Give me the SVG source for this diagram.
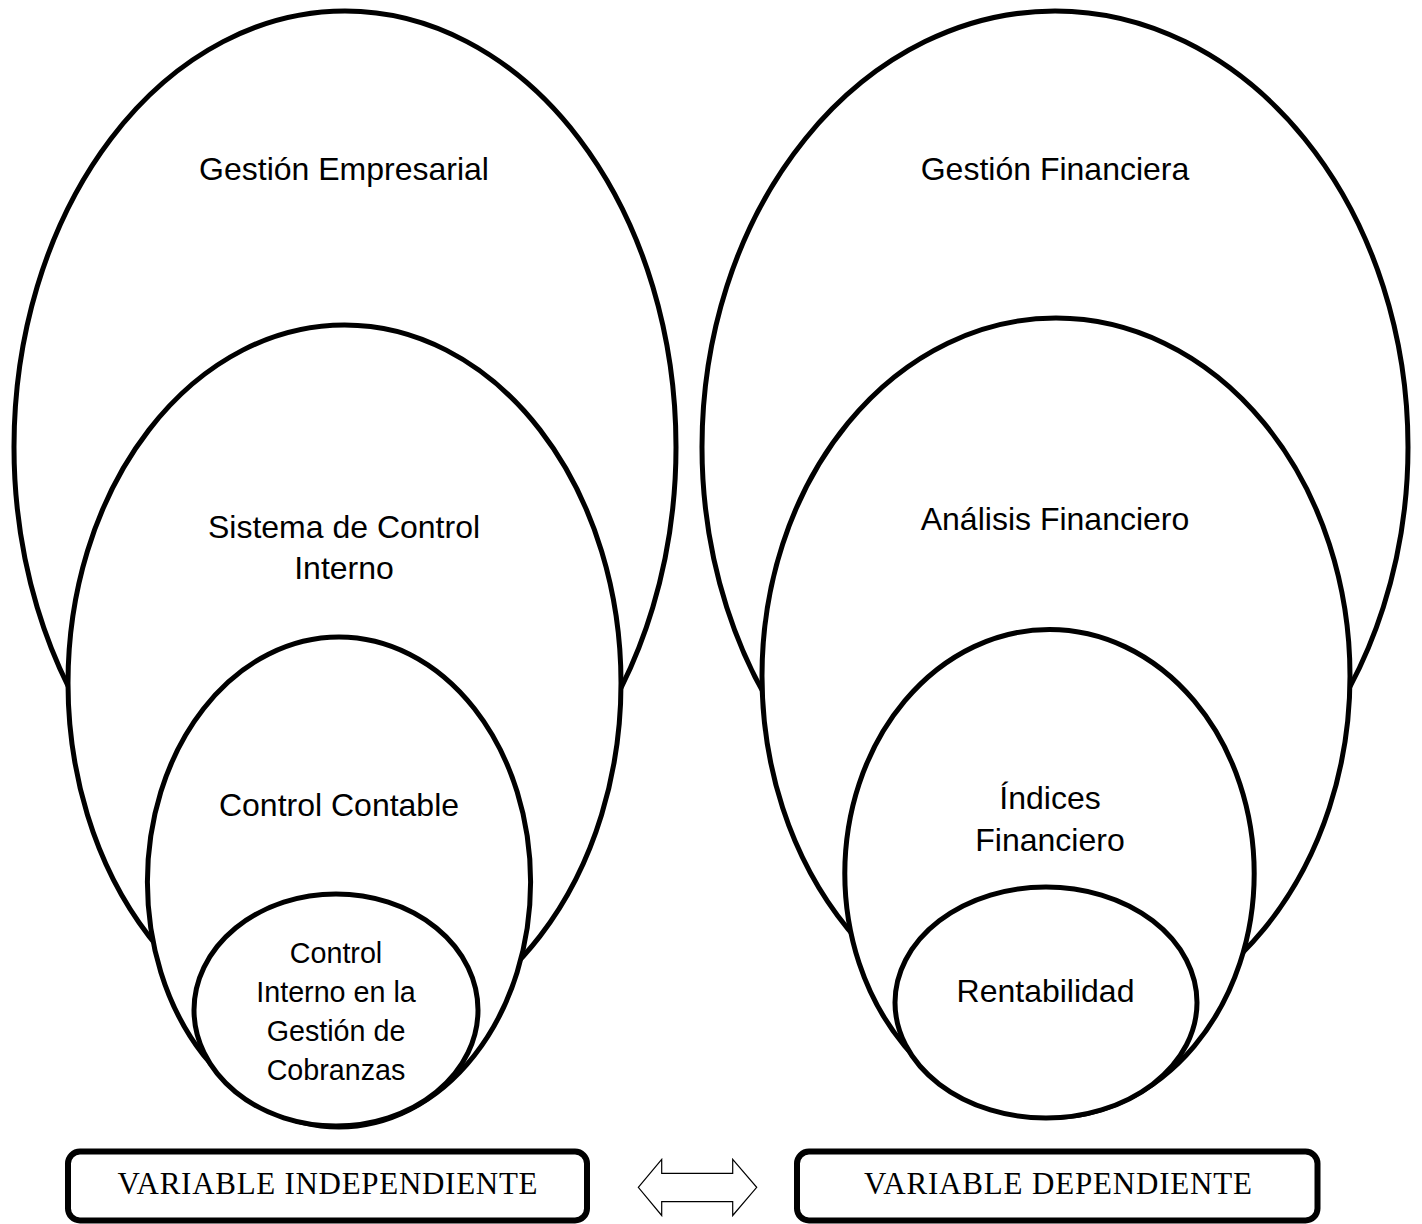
<svg xmlns="http://www.w3.org/2000/svg" width="1422" height="1224" viewBox="0 0 1422 1224">
  <style>
    .ring { fill: #ffffff; stroke: #000000; stroke-width: 5; }
    .box { fill: #ffffff; stroke: #000000; stroke-width: 6; }
    .lbl { font-family: "Liberation Sans", Arial, sans-serif; font-size: 32px; fill: #000000; text-anchor: middle; }
    .lbl-sm { font-family: "Liberation Sans", Arial, sans-serif; font-size: 28.7px; fill: #000000; text-anchor: middle; }
    .var { font-family: "Liberation Serif", "Times New Roman", serif; font-size: 31px; fill: #000000; text-anchor: middle; }
    .link { fill: #ffffff; stroke: #000000; stroke-width: 1.2; stroke-linejoin: miter; }
  </style>
  <rect width="1422" height="1224" fill="#ffffff"/>

  <!-- Independent variable: nested ellipses, outermost first -->
  <g id="gestion-empresarial">
    <ellipse class="ring" cx="345" cy="447" rx="331" ry="436"/>
    <text class="lbl" x="344" y="180">Gestión Empresarial</text>
  </g>
  <g id="sistema-control-interno">
    <ellipse class="ring" cx="344.5" cy="683" rx="276.5" ry="358"/>
    <text class="lbl" x="344" y="538">Sistema de Control</text>
    <text class="lbl" x="344" y="579">Interno</text>
  </g>
  <g id="control-contable">
    <ellipse class="ring" cx="339" cy="882" rx="191.6" ry="245"/>
    <text class="lbl" x="339" y="816">Control Contable</text>
  </g>
  <g id="control-interno-cobranzas">
    <ellipse class="ring" cx="336" cy="1010" rx="142" ry="116"/>
    <text class="lbl-sm" x="336" y="963">Control</text>
    <text class="lbl-sm" x="336" y="1002">Interno en la</text>
    <text class="lbl-sm" x="336" y="1041">Gestión de</text>
    <text class="lbl-sm" x="336" y="1080">Cobranzas</text>
  </g>

  <!-- Dependent variable: nested ellipses, outermost first -->
  <g id="gestion-financiera">
    <ellipse class="ring" cx="1055" cy="447" rx="353" ry="436"/>
    <text class="lbl" x="1055" y="180">Gestión Financiera</text>
  </g>
  <g id="analisis-financiero">
    <ellipse class="ring" cx="1056" cy="676" rx="294" ry="358"/>
    <text class="lbl" x="1055" y="530">Análisis Financiero</text>
  </g>
  <g id="indices-financiero">
    <ellipse class="ring" cx="1049.5" cy="873.5" rx="204.7" ry="244"/>
    <text class="lbl" x="1050" y="809">Índices</text>
    <text class="lbl" x="1050" y="851">Financiero</text>
  </g>
  <g id="rentabilidad">
    <ellipse class="ring" cx="1046" cy="1002.5" rx="151" ry="115.5"/>
    <text class="lbl" x="1045.5" y="1002">Rentabilidad</text>
  </g>

  <!-- Variable labels -->
  <g id="variable-independiente">
    <rect class="box" x="68" y="1151.5" width="519" height="69" rx="12" ry="12"/>
    <text class="var" x="327.5" y="1194" textLength="420" lengthAdjust="spacing">VARIABLE INDEPENDIENTE</text>
  </g>
  <g id="variable-dependiente">
    <rect class="box" x="797" y="1151.5" width="520.5" height="69" rx="12" ry="12"/>
    <text class="var" x="1058" y="1194" textLength="388" lengthAdjust="spacing">VARIABLE DEPENDIENTE</text>
  </g>

  <!-- Connectors -->
  <g id="connectors">
    <polygon class="link" points="638.3,1187.3 661.7,1159.3 661.7,1173.3 732.7,1173.3 732.7,1159.3 756.7,1187.3 732.7,1215.5 732.7,1201.7 661.7,1201.7 661.7,1215.5"/>
  </g>
</svg>
